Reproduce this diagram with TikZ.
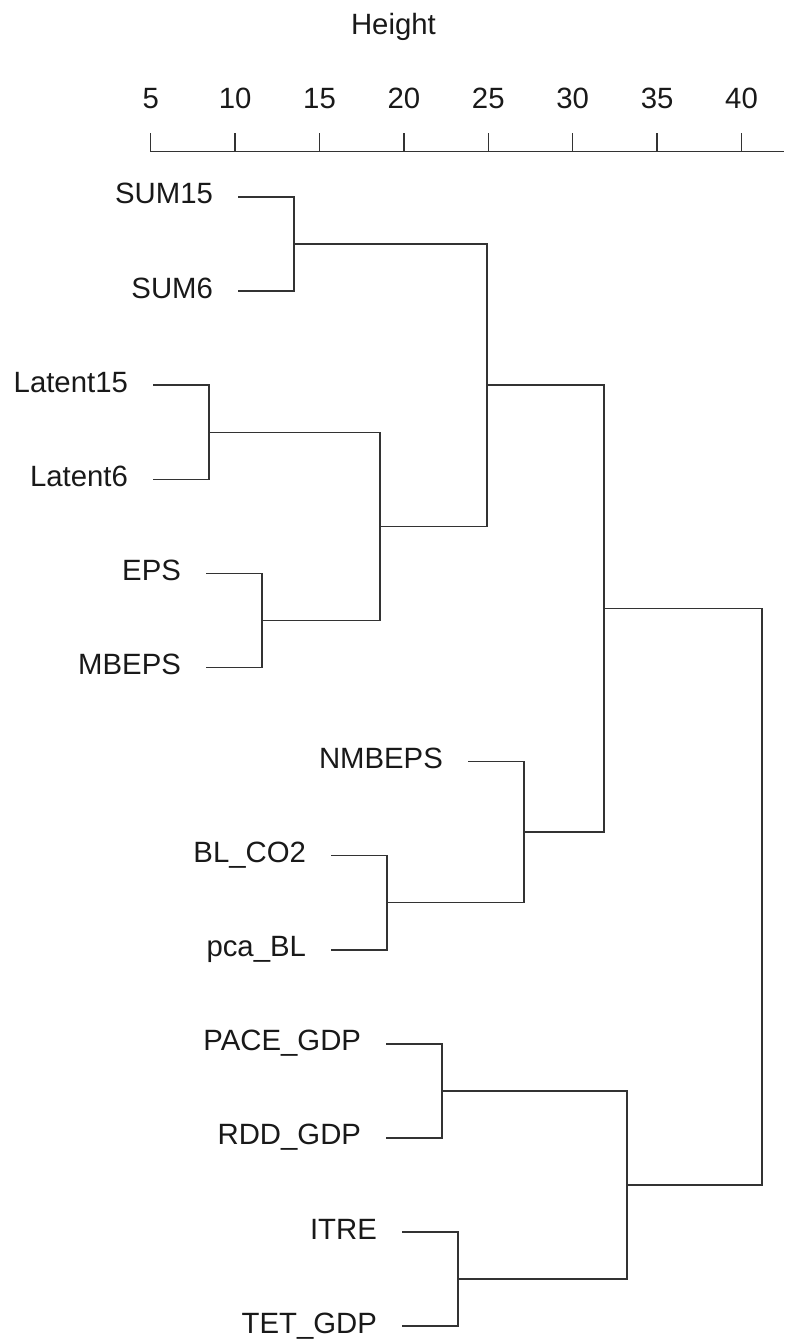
\documentclass[tikz,border=0pt]{standalone}
\usepackage{fontspec}
\setmainfont{Liberation Sans}
\usepackage{tikz}
\usetikzlibrary{positioning}

\begin{document}
\begin{tikzpicture}[x=12.66pt, y=70.575pt, font=\fontsize{22}{26}\selectfont,
    branch/.style={line width=1.1pt, color=black!80},
    leaf/.style={anchor=base east, inner sep=0pt, xshift=-18.8pt, yshift=-5.2pt, text=black!90},
    ticklabel/.style={anchor=base, inner sep=0pt, text=black!90}]
    \useasboundingbox (-3.928,2.0935) rectangle (42.52,-12.168);
    % height axis
    \coordinate (axL) at (5,0.4814);
    \coordinate (axR) at (42.52,0.4814);
    \draw[branch] (axL) -- (axR);
    \foreach \t in {5,10,...,40} {
        \draw[branch] (\t,0.4814) -- (\t,0.677);
        \node[ticklabel] (tick\t) at (\t,0.9458) {\t};
    }
    \node[ticklabel] (height) at (19.38,1.7216) {Height};
    % leaves, top to bottom
    \foreach \name/\txt/\x [count=\i from 0] in {sumA/SUM15/10.19, sumB/SUM6/10.19,
            latA/Latent15/5.15, latB/Latent6/5.15, epsA/EPS/8.29, epsB/MBEPS/8.29,
            nmbA/NMBEPS/23.81, blA/BL\_CO2/15.70, blB/pca\_BL/15.70,
            paceA/PACE\_GDP/18.96, paceB/RDD\_GDP/18.96, itreA/ITRE/19.90, itreB/TET\_GDP/19.90} {
        \coordinate (\name) at (\x,-\i);
        \node[leaf] (\name-txt) at (\name) {\txt};
    }
    % merge points (height, middle of children)
    \coordinate (sum) at (13.49,-0.5);
    \coordinate (lat) at (8.45,-2.5);
    \coordinate (eps) at (11.59,-4.5);
    \coordinate (latEps) at (18.58,-3.5);
    \coordinate (upper) at (24.92,-2);
    \coordinate (bl) at (19.00,-7.5);
    \coordinate (nmb) at (27.11,-6.75);
    \coordinate (grpA) at (31.86,-4.375);
    \coordinate (pace) at (22.26,-9.5);
    \coordinate (itre) at (23.20,-11.5);
    \coordinate (lower) at (33.22,-10.5);
    \coordinate (root) at (41.21,-7.4375);
    % branches
    \draw[branch] (sumA) -| (sum) |- (sumB);
    \draw[branch] (latA) -| (lat) |- (latB);
    \draw[branch] (epsA) -| (eps) |- (epsB);
    \draw[branch] (lat) -| (latEps) |- (eps);
    \draw[branch] (sum) -| (upper) |- (latEps);
    \draw[branch] (blA) -| (bl) |- (blB);
    \draw[branch] (nmbA) -| (nmb) |- (bl);
    \draw[branch] (upper) -| (grpA) |- (nmb);
    \draw[branch] (paceA) -| (pace) |- (paceB);
    \draw[branch] (itreA) -| (itre) |- (itreB);
    \draw[branch] (pace) -| (lower) |- (itre);
    \draw[branch] (grpA) -| (root) |- (lower);
\end{tikzpicture}
\end{document}
